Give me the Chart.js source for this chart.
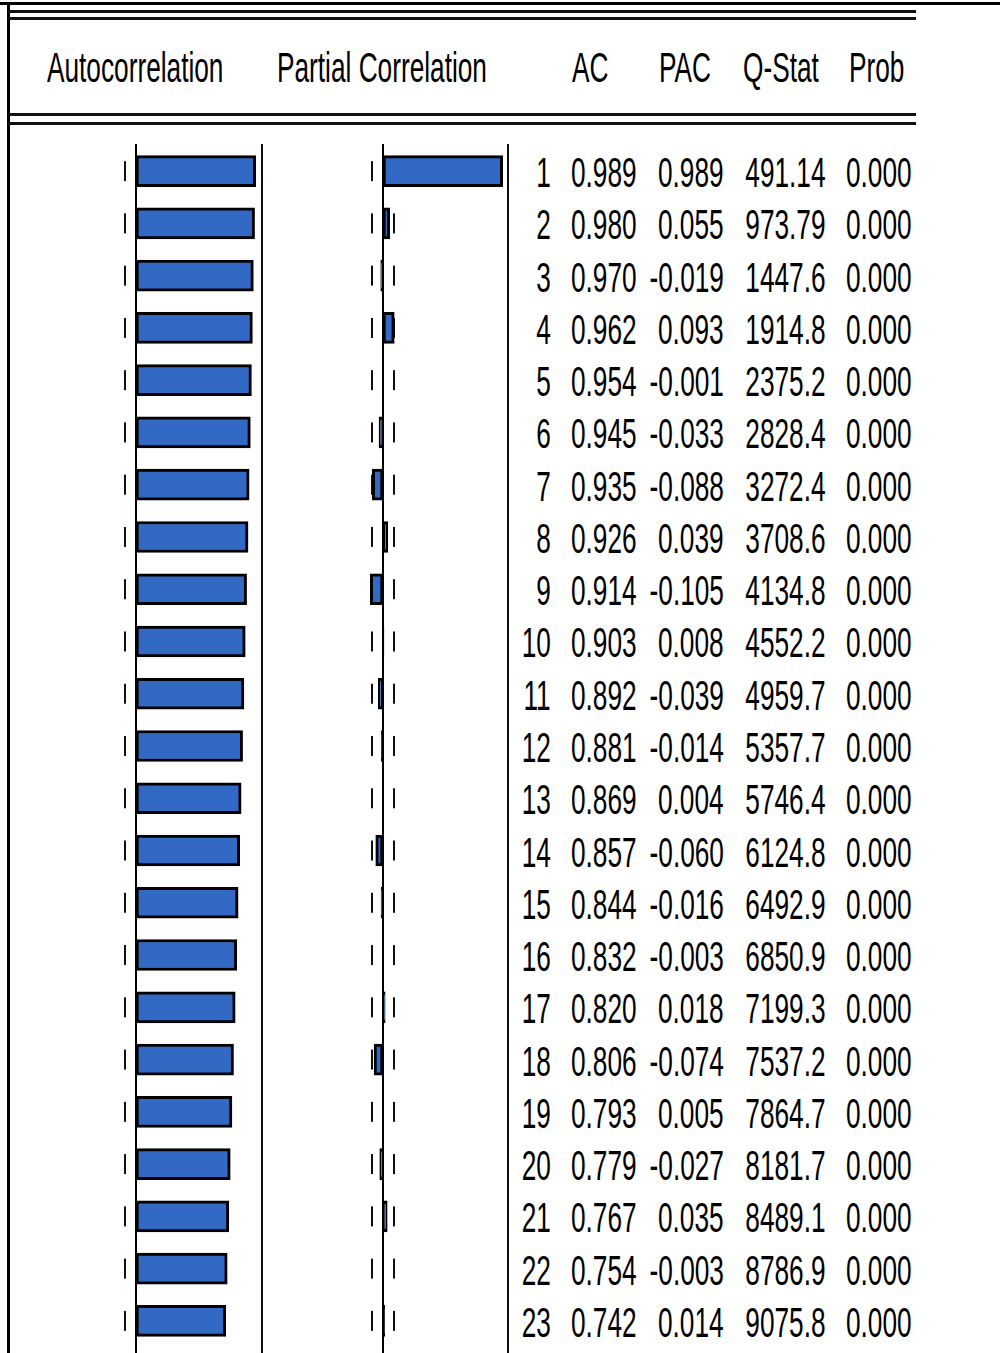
<!DOCTYPE html>
<html>
<head>
<meta charset="utf-8">
<script src="https://cdn.jsdelivr.net/npm/chart.js@4.4.1/dist/chart.umd.min.js"></script>
<style>
  body { margin: 0; background: #fff; }
  #page { position: relative; width: 1000px; height: 1353px; overflow: hidden; background: #fff;
          font-family: "Liberation Sans", Arial, sans-serif; font-size: 43px; color: #000; }
  .rule { position: absolute; background: #111; }
  canvas { position: absolute; top: 0; }
  .head { position: absolute; top: 46px; line-height: 1; white-space: nowrap;
          transform-origin: left top; transform: scaleX(0.61); }
  .cell { position: absolute; line-height: 1; white-space: nowrap; text-align: right;
          transform-origin: right center; transform: translateY(-50%) scaleX(0.61); }
</style>
</head>
<body>
<div id="page">
  <!-- frame -->
  <div class="rule" style="left:0;top:2px;width:1000px;height:3px;background:#000"></div>
  <div class="rule" style="left:7px;top:2px;width:3px;height:1351px;background:#000"></div>
  <div class="rule" style="left:8px;top:10px;width:908px;height:3px"></div>
  <div class="rule" style="left:8px;top:17px;width:908px;height:3px"></div>
  <div class="rule" style="left:8px;top:113px;width:908px;height:3px"></div>
  <div class="rule" style="left:8px;top:122px;width:908px;height:3px"></div>
  <div class="rule" style="left:261px;top:144px;width:2px;height:1209px"></div>
  <div class="rule" style="left:507px;top:144px;width:2px;height:1209px"></div>

  <div class="head" style="left:47px">Autocorrelation</div>
  <div class="head" style="left:277px">Partial Correlation</div>
  <div class="head" style="left:572px">AC</div>
  <div class="head" style="left:659px">PAC</div>
  <div class="head" style="left:743px">Q-Stat</div>
  <div class="head" style="left:849px">Prob</div>

  <canvas id="ac-chart" width="262" height="1353" style="left:0"></canvas>
  <canvas id="pac-chart" width="262" height="1353" style="left:247px"></canvas>
  <div id="table"></div>
</div>
<script>
// correlogram data
const lags = [1, 2, 3, 4, 5, 6, 7, 8, 9, 10, 11, 12, 13, 14, 15, 16, 17, 18, 19, 20, 21, 22, 23];
const acValues = [0.989, 0.980, 0.970, 0.962, 0.954, 0.945, 0.935, 0.926, 0.914, 0.903, 0.892, 0.881,
                  0.869, 0.857, 0.844, 0.832, 0.820, 0.806, 0.793, 0.779, 0.767, 0.754, 0.742];
const pacValues = [0.989, 0.055, -0.019, 0.093, -0.001, -0.033, -0.088, 0.039, -0.105, 0.008, -0.039, -0.014,
                   0.004, -0.060, -0.016, -0.003, 0.018, -0.074, 0.005, -0.027, 0.035, -0.003, 0.014];
const qStat = ['491.14', '973.79', '1447.6', '1914.8', '2375.2', '2828.4', '3272.4', '3708.6', '4134.8', '4552.2',
               '4959.7', '5357.7', '5746.4', '6124.8', '6492.9', '6850.9', '7199.3', '7537.2', '7864.7', '8181.7',
               '8489.1', '8786.9', '9075.8'];
const probValues = [0.000, 0.000, 0.000, 0.000, 0.000, 0.000, 0.000, 0.000, 0.000, 0.000, 0.000, 0.000,
                    0.000, 0.000, 0.000, 0.000, 0.000, 0.000, 0.000, 0.000, 0.000, 0.000, 0.000];
const confBound = 0.087; // approx 2/sqrt(T)

const barBlue = '#3169C5';

// zero line + confidence dashes
const corrLines = {
    id: 'corrLines',
    beforeDatasetsDraw(chart) {
        const ctx = chart.ctx, xs = chart.scales.x, ys = chart.scales.y;
        ctx.save();
        ctx.fillStyle = '#111';
        lags.forEach((lag, i) => {
            const yc = ys.getPixelForValue(i);
            [-confBound, confBound].forEach(b => {
                const x = Math.round(xs.getPixelForValue(b));
                ctx.fillRect(x - 1, yc - 10, 2, 20);
            });
        });
        ctx.restore();
    },
    afterDatasetsDraw(chart) {
        const ctx = chart.ctx, x0 = chart.scales.x.getPixelForValue(0);
        ctx.save();
        ctx.fillStyle = '#000';
        ctx.fillRect(x0 - 1, chart.chartArea.top - 1, 2, chart.height);
        ctx.restore();
    }
};

function makeChart(id, values) {
    return new Chart(document.getElementById(id), {
        type: 'bar',
        data: {
            labels: lags,
            datasets: [{
                data: values,
                backgroundColor: barBlue,
                borderColor: '#000',
                borderWidth: 3,
                borderSkipped: false,
                barThickness: 31
            }]
        },
        options: {
            indexAxis: 'y',
            responsive: false,
            animation: false,
            devicePixelRatio: 1,
            layout: { padding: { left: 15, right: 5, top: 145, bottom: 6 } },
            scales: {
                x: { display: false, min: -1, max: 1 },
                y: { display: false }
            },
            plugins: {
                legend: { display: false },
                tooltip: { enabled: false }
            }
        },
        plugins: [corrLines]
    });
}

const acChart = makeChart('ac-chart', acValues);
const pacChart = makeChart('pac-chart', pacValues);

// numeric table, rows follow the chart's category scale
const table = document.getElementById('table');
const colRight = [551, 637, 724, 826, 912];
lags.forEach((lag, i) => {
    const yc = pacChart.scales.y.getPixelForValue(i) + 1;
    const cells = [String(lag), acValues[i].toFixed(3), pacValues[i].toFixed(3), qStat[i], probValues[i].toFixed(3)];
    cells.forEach((txt, c) => {
        const d = document.createElement('div');
        d.className = 'cell';
        d.style.top = yc + 'px';
        d.style.right = (1000 - colRight[c]) + 'px';
        d.textContent = txt;
        table.appendChild(d);
    });
});
</script>
</body>
</html>
